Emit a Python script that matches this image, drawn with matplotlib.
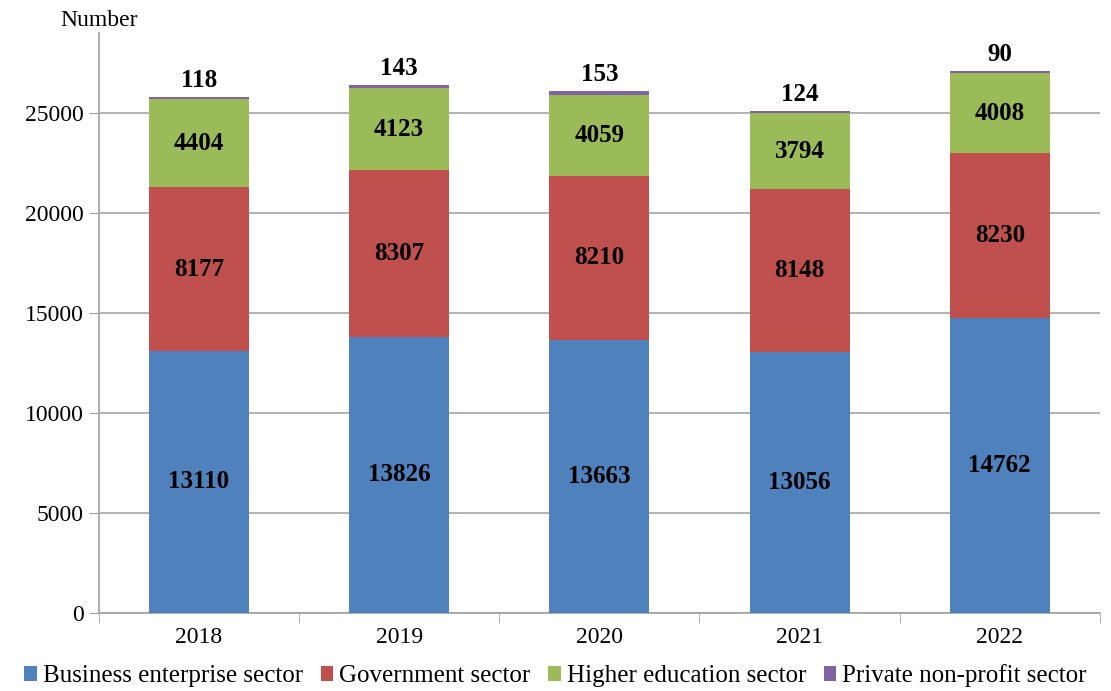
import matplotlib
matplotlib.use("Agg")
import matplotlib.pyplot as plt
import numpy as np

# ── data ───────────────────────────────────────────────────────────────────────
YEARS       = ["2018", "2019", "2020", "2021", "2022"]
BUSINESS    = [13110, 13826, 13663, 13056, 14762]
GOVERNMENT  = [8177, 8307, 8210, 8148, 8230]
HIGHER_EDU  = [4404, 4123, 4059, 3794, 4008]
PRIVATE_NP  = [118, 143, 153, 124, 90]

SECTORS = ["Business enterprise sector", "Government sector",
           "Higher education sector", "Private non-profit sector"]
COLORS  = ["#4F81BD", "#C0504D", "#9BBB59", "#8064A2"]

plt.rcParams["font.family"] = ["Liberation Serif", "DejaVu Serif"]

fig = plt.figure(figsize=(11.11, 6.91), dpi=100)
ax = fig.add_axes([0.089, 0.113, 0.901, 0.839])

x = np.arange(len(YEARS))
bottom = np.zeros(len(YEARS))
series = [BUSINESS, GOVERNMENT, HIGHER_EDU, PRIVATE_NP]
for name, vals, col in zip(SECTORS, series, COLORS):
    vals = np.array(vals, dtype=float)
    ax.bar(x, vals, 0.5, bottom=bottom, color=col, label=name, zorder=3)
    for xi, b, v in zip(x, bottom, vals):
        if name == SECTORS[-1]:
            ax.text(xi, b + v + 250, f"{int(v)}", ha="center", va="bottom",
                    fontsize=18, fontweight="bold", zorder=4)
        else:
            ax.text(xi, b + v / 2, f"{int(v)}", ha="center", va="center",
                    fontsize=18, fontweight="bold", zorder=4)
    bottom += vals

ax.set_xlim(-0.5, len(YEARS) - 0.5)
ax.set_ylim(0, 29000)
ax.set_yticks(np.arange(0, 25001, 5000))
ax.tick_params(axis="y", labelsize=17, length=7, color="#A0A0A0", pad=4)
ax.grid(axis="y", color="#A6A6A6", linewidth=1.2, zorder=0)

# year labels in the middle, tick marks between categories
ax.set_xticks(x)
ax.set_xticklabels(YEARS, fontsize=17)
ax.tick_params(axis="x", length=0, pad=10)
ax.set_xticks(np.arange(-0.5, len(YEARS)), minor=True)
ax.tick_params(axis="x", which="minor", length=7, color="#A0A0A0")

for side in ["top", "right"]:
    ax.spines[side].set_visible(False)
for side in ["left", "bottom"]:
    ax.spines[side].set_color("#A0A0A0")
    ax.spines[side].set_linewidth(1.2)

fig.text(0.054, 0.955, "Number", fontsize=17, ha="left", va="bottom")

fig.legend(loc="upper center", bbox_to_anchor=(0.5, 0.053), ncol=4,
           frameon=False, fontsize=18, handlelength=0.5, handleheight=0.5,
           handletextpad=0.25, columnspacing=0.7, borderaxespad=0)

fig.savefig("out.png", dpi=100)
